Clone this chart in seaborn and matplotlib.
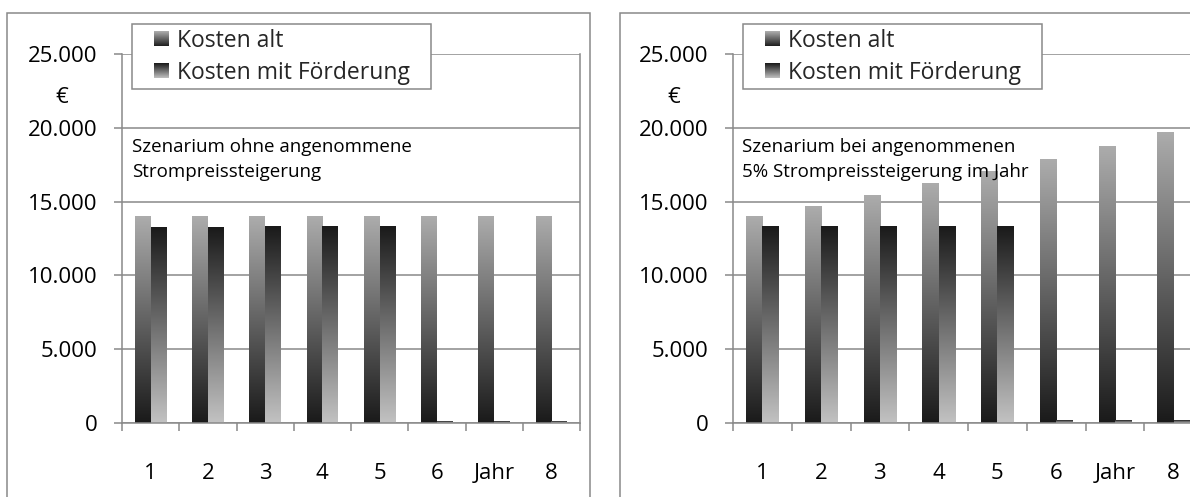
import numpy as np
import pandas as pd
import matplotlib
matplotlib.use("Agg")
import matplotlib.pyplot as plt
import seaborn as sns
from matplotlib.colors import LinearSegmentedColormap
from matplotlib.legend_handler import HandlerBase
from matplotlib.patches import Rectangle

sns.set_theme(style="white")
plt.rcParams['font.family'] = ['Open Sans', 'DejaVu Sans']

# ---- data -------------------------------------------------------------
years = ["1", "2", "3", "4", "5", "6", "Jahr", "8"]
series_names = ["Kosten alt", "Kosten mit Förderung"]

# scenario without rising electricity prices
kosten_alt_a = [14000, 14000, 14000, 14000, 14000, 14000, 14000, 14000]
kosten_foerd_a = [13270, 13270, 13340, 13340, 13340, 80, 80, 80]

# scenario with 5 % electricity price increase per year
kosten_alt_b = [14000, 14700, 15435, 16207, 17017, 17868, 18761, 19699]
kosten_foerd_b = [13300, 13300, 13300, 13300, 13300, 200, 200, 200]

note_a = "Szenarium ohne angenommene\nStrompreissteigerung"
note_b = "Szenarium bei angenommenen\n5% Strompreissteigerung im Jahr"

yticks = [0, 5000, 10000, 15000, 20000, 25000]
ytick_labels = ["0", "5.000", "10.000", "15.000", "20.000", "25.000"]

# ---- style ------------------------------------------------------------
GRAY = "#898989"
W, H = 1190, 497
cmap_alt = LinearSegmentedColormap.from_list("alt", ["#1a1a1a", "#acacac"])      # bottom -> top
cmap_foerd = LinearSegmentedColormap.from_list("foerd", ["#c2c2c2", "#1a1a1a"])  # bottom -> top


class GradientSquare(HandlerBase):
    """Legend key drawn as a small square with a vertical gradient."""

    def __init__(self, cmap, side):
        super().__init__()
        self.cmap = cmap
        self.side = side

    def create_artists(self, legend, orig_handle, xdescent, ydescent,
                       width, height, fontsize, trans):
        n = 30
        s = self.side
        x0 = -xdescent + width - s
        y0 = -ydescent + (height - s) / 2
        arts = []
        for i in range(n):
            r = Rectangle((x0, y0 + i * s / n), s, s / n * 1.05,
                          facecolor=self.cmap((i + 0.5) / n),
                          edgecolor="none", transform=trans)
            arts.append(r)
        return arts


def long_frame(alt, foerd):
    return pd.DataFrame({
        "Jahr": years * 2,
        "Kosten": list(alt) + list(foerd),
        "Reihe": [series_names[0]] * len(years) + [series_names[1]] * len(years),
    })


def draw_panel(ax, alt, foerd, note, legend_x, note_x, label_x):
    df = long_frame(alt, foerd)
    sns.barplot(data=df, x="Jahr", y="Kosten", hue="Reihe", order=years,
                hue_order=series_names, width=0.55, palette=["#888888", "#333333"],
                errorbar=None, legend=False, ax=ax, zorder=2)

    # replace the flat bars by vertical gradients
    grad = np.linspace(0, 1, 256).reshape(-1, 1)
    for container, cmap in zip(ax.containers, [cmap_alt, cmap_foerd]):
        for rect in container:
            x0, y0 = rect.get_x(), rect.get_y()
            w, h = rect.get_width(), rect.get_height()
            ax.imshow(grad, extent=[x0, x0 + w, y0, y0 + h], origin="lower",
                      aspect="auto", cmap=cmap, zorder=2, interpolation="bilinear")
            rect.set_visible(False)

    ax.set_xlim(-0.5, len(years) - 0.5)
    ax.set_ylim(0, 25000)
    ax.set_yticks(yticks, ytick_labels)
    ax.set_xticks(range(len(years)), years)
    ax.set_xticks(np.arange(-0.5, len(years), 1.0), minor=True)

    ax.tick_params(axis="x", which="major", bottom=True, length=0, pad=29,
                   labelsize=16, labelcolor="black")
    ax.tick_params(axis="x", which="minor", bottom=True, length=6, width=1.1,
                   color=GRAY, direction="out")
    ax.tick_params(axis="y", which="major", left=True, length=5.5, width=1.1,
                   color=GRAY, pad=12, labelsize=16, labelcolor="black")

    ax.grid(axis="y", color=GRAY, lw=1.1)
    ax.grid(axis="x", visible=False)
    ax.set_axisbelow(True)
    ax.spines["top"].set_visible(False)
    for side in ("left", "bottom", "right"):
        ax.spines[side].set_color(GRAY)
        ax.spines[side].set_linewidth(1.1)

    ax.set_xlabel("")
    ax.set_ylabel("€", rotation=0, fontsize=16, color="black", ha="center", va="center")
    ax.yaxis.set_label_coords(label_x, 0.883)

    handles = [Rectangle((0, 0), 1, 1), Rectangle((0, 0), 1, 1)]
    side = 15 * 72 / 100
    leg = ax.legend(handles, series_names,
                    handler_map={handles[0]: GradientSquare(cmap_alt, side),
                                 handles[1]: GradientSquare(cmap_foerd, side)},
                    loc="upper left",
                    bbox_to_anchor=(legend_x / W, (H - 88) / H, 299 / W, 64 / H),
                    bbox_transform=fig.transFigure, borderaxespad=0, mode="expand",
                    frameon=True, fancybox=False, framealpha=1, facecolor="white",
                    edgecolor=GRAY, fontsize=16.5, handlelength=1.43, handleheight=0.7,
                    handletextpad=0.35, borderpad=0.2, labelspacing=0.35)
    leg.get_frame().set_linewidth(1.1)
    leg.set_zorder(10)

    fig.text(note_x / W, 1 - 138 / H, note, fontsize=13.5, va="top", ha="left",
             color="black", linespacing=1.52, zorder=11)


fig = plt.figure(figsize=(W / 100, H / 100), dpi=100)
fig.patch.set_facecolor("white")

ax_a = fig.add_axes([122 / W, 74 / H, 458 / W, 369 / H])
ax_b = fig.add_axes([733 / W, 74 / H, 470 / W, 369 / H])

draw_panel(ax_a, kosten_alt_a, kosten_foerd_a, note_a, 132, 132, -0.131)
draw_panel(ax_b, kosten_alt_b, kosten_foerd_b, note_b, 743, 742, -0.1255)

# chart-area frames around each panel
fig.add_artist(Rectangle((7 / W, -0.05), (590 - 7) / W, 1.05 - 12.7 / H,
                         transform=fig.transFigure, fill=False, ec=GRAY, lw=1.1))
fig.add_artist(Rectangle((620 / W, -0.05), 0.5, 1.05 - 12.7 / H,
                         transform=fig.transFigure, fill=False, ec=GRAY, lw=1.1))

fig.savefig("out.png", dpi=100, facecolor="white")
